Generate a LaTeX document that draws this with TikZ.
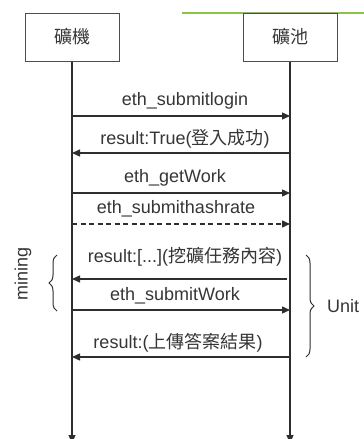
\documentclass[tikz,border=0pt]{standalone}
\usepackage{fontspec}
\setmainfont{Liberation Sans}
\newfontfamily\cjkfont{Noto Sans CJK TC}
\newcommand{\zh}[1]{{\cjkfont #1}}
\newcommand{\msgfont}{\fontsize{18}{21}\selectfont}
\usepackage{tikz}
\usetikzlibrary{arrows.meta, positioning, decorations.pathreplacing}
\definecolor{linegray}{HTML}{2E2E2E}
\definecolor{textgray}{HTML}{363636}
\definecolor{topgreen}{HTML}{8BC34A}
\tikzstyle{actor} = [draw=linegray!85, line width=1pt, minimum width=94pt, minimum height=48pt, inner sep=0pt, text=textgray, font=\msgfont]
\tikzstyle{life} = [draw=linegray, line width=1.3pt, -{Triangle[length=8pt,width=7pt]}]
\tikzstyle{msg} = [draw=linegray, line width=1.3pt, -{Triangle[length=8pt,width=7pt]}]
\tikzstyle{lbl} = [text=textgray, font=\msgfont, inner sep=0pt]
\tikzstyle{brc} = [draw=linegray, line width=1pt, decorate, decoration={brace, amplitude=8pt, aspect=0.5}]

\begin{document}
\begin{tikzpicture}[x=1pt, y=-1pt]
			\useasboundingbox (0,0) rectangle (364,439);
			\fill [white] (0,0) rectangle (364,439);

			% strip at the top
			\coordinate (g1) at (182,13);
			\coordinate (g2) at (364,13);
			\draw [topgreen, line width=1.2pt] (g1) -- (g2);

			\node [actor, fill=white] (miner) at (72,37) {\zh{礦機}};
			\node [actor, fill=white] (pool) at (290,37) {\zh{礦池}};
			\coordinate (minerEnd) at (72,443);
			\coordinate (poolEnd) at (290,443);
			\path [life] (miner) -- (minerEnd);
			\path [life] (pool) -- (poolEnd);

			% message ends on the lifelines
			\coordinate (a1) at (72,116);  \coordinate (b1) at (290,116);
			\coordinate (a2) at (72,153);  \coordinate (b2) at (290,153);
			\coordinate (a3) at (72,193);  \coordinate (b3) at (290,193);
			\coordinate (a4) at (72,224);  \coordinate (b4) at (290,224);
			\coordinate (a5) at (72,279);  \coordinate (b5) at (287,279);
			\coordinate (a6) at (72,310);  \coordinate (b6) at (290,310);
			\coordinate (a7) at (72,357);  \coordinate (b7) at (290,357);

			\path [msg] (a1) -- (b1);
			\path [msg] (b2) -- (a2);
			\path [msg] (a3) -- (b3);
			\path [msg, dash pattern=on 5pt off 3.5pt] (a4) -- (b4);
			\path [msg] (b5) -- (a5);
			\path [msg] (a6) -- (b6);
			\path [msg] (b7) -- (a7);

			\node [lbl] (t1) at (185,101) {eth\_submitlogin};
			\node [lbl] (t2) at (185,139) {result:True(\zh{登入成功})};
			\node [lbl] (t3) at (175,178) {eth\_getWork};
			\node [lbl] (t4) at (176,209) {eth\_submithashrate};
			\node [lbl] (t5) at (185,257) {result:[...](\zh{挖礦任務內容})};
			\node [lbl] (t6) at (175,296) {eth\_submitWork};
			\node [lbl] (t7) at (178,343) {result:(\zh{上傳答案結果})};

			% braces
			\coordinate (l1) at (57,311);
			\coordinate (l2) at (57,255);
			\coordinate (r1) at (306,255);
			\coordinate (r2) at (306,357);
			\path [brc] (l1) -- (l2);
			\path [brc] (r1) -- (r2);
			\node [lbl, rotate=90] (mining) at (23,274) {mining};
			\node [lbl, anchor=west] (unit) at (327,306) {Unit};
		\end{tikzpicture}
\end{document}
